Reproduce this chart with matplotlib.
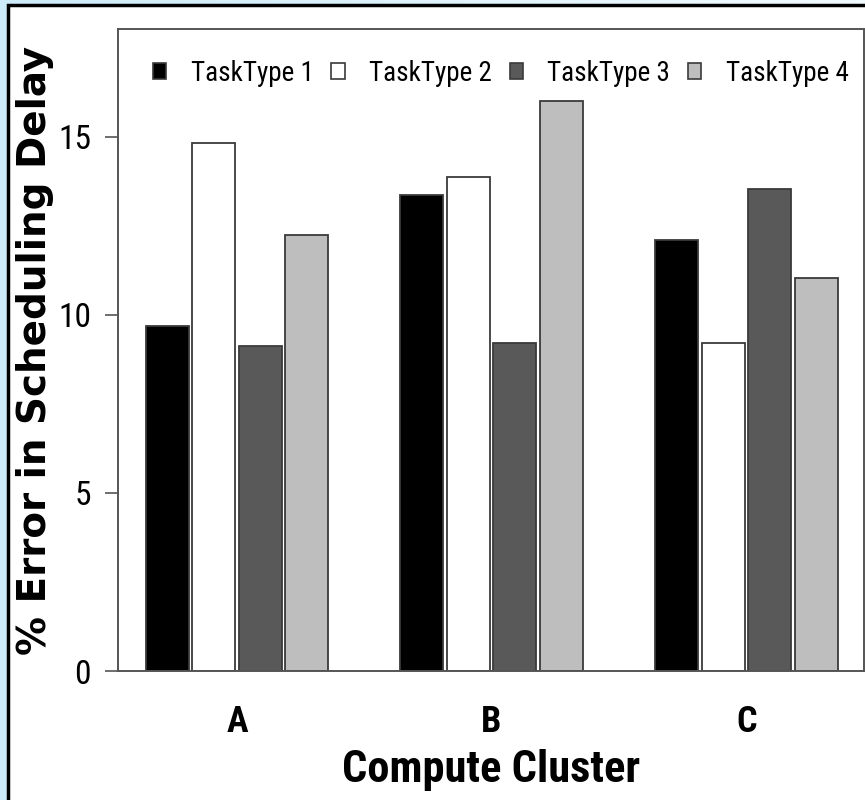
import matplotlib
matplotlib.use("Agg")
import matplotlib.pyplot as plt
import numpy as np
from matplotlib.patches import Rectangle, Patch

clusters = ["A", "B", "C"]
task_types = ["TaskType 1", "TaskType 2", "TaskType 3", "TaskType 4"]
task1 = [9.69, 13.37, 12.11]
task2 = [14.83, 13.88, 9.21]
task3 = [9.13, 9.21, 13.54]
task4 = [12.25, 16.01, 11.04]
series = [task1, task2, task3, task4]
fills = ["#000000", "#ffffff", "#595959", "#bebebe"]

narrow = ["Liberation Sans Narrow", "Roboto Condensed", "DejaVu Sans"]

fig = plt.figure(figsize=(8.65, 8.0), dpi=100)

# pale blue slide background, then a white panel with a black frame
bg = fig.add_axes([0, 0, 1, 1], zorder=-10)
grad = np.linspace(0, 1, 256)[None, :]
bg.imshow(grad, aspect="auto", extent=[0, 1, 0, 1],
          cmap=matplotlib.colors.LinearSegmentedColormap.from_list(
              "bg", ["#cdebf8", "#f2fbfe"]))
bg.add_patch(Rectangle((8 / 865, -0.01), 1.0, 1 - 5 / 800 + 0.01,
                       facecolor="white", edgecolor="black", linewidth=2.5))
bg.set_xlim(0, 1)
bg.set_ylim(0, 1)
bg.axis("off")

ax = fig.add_axes([118 / 865, 1 - 671 / 800, 746 / 865, 642 / 800])
ax.set_facecolor("none")

centers = np.array([2.56, 8.03, 13.51])
width = 0.925
for i, (vals, col) in enumerate(zip(series, fills)):
    ax.bar(centers + (i - 1.5), vals, width=width, color=col,
           edgecolor="#3a3a3a", linewidth=1.3, label=task_types[i])

ax.set_xlim(0, 16.04)
ax.set_ylim(0, 18.03)

for side in ["left", "top", "right", "bottom"]:
    ax.spines[side].set_color("#555555")
    ax.spines[side].set_linewidth(1.4)

ax.set_yticks([0, 5, 10, 15])
ax.set_yticklabels(["0", "5", "10", "15"], family=narrow, stretch="condensed",
                   fontsize=24)
ax.tick_params(axis="y", length=9.5, width=1.2, color="#555555", pad=10)

ax.set_xticks(centers)
ax.set_xticklabels(clusters, family=narrow, stretch="condensed",
                   fontweight="bold", fontsize=26)
ax.tick_params(axis="x", length=0, pad=24)

ax.set_xlabel("Compute Cluster", family=narrow, stretch="condensed",
              fontweight="bold", fontsize=32, labelpad=6)
ax.set_ylabel("% Error in Scheduling Delay", family="DejaVu Sans",
              fontweight="bold", fontsize=28)
ax.yaxis.set_label_coords(-0.086, 0.5)

handles = [Patch(facecolor=c, edgecolor="#3a3a3a", linewidth=1.2) for c in fills]
leg = ax.legend(handles, task_types, loc="upper center", ncol=4,
                frameon=False, bbox_to_anchor=(0.513, 0.99),
                prop={"family": narrow, "stretch": "condensed", "size": 19.5},
                handlelength=0.5, handleheight=0.55,
                handletextpad=0.9, columnspacing=0.65)

fig.savefig("out.png", dpi=100)
